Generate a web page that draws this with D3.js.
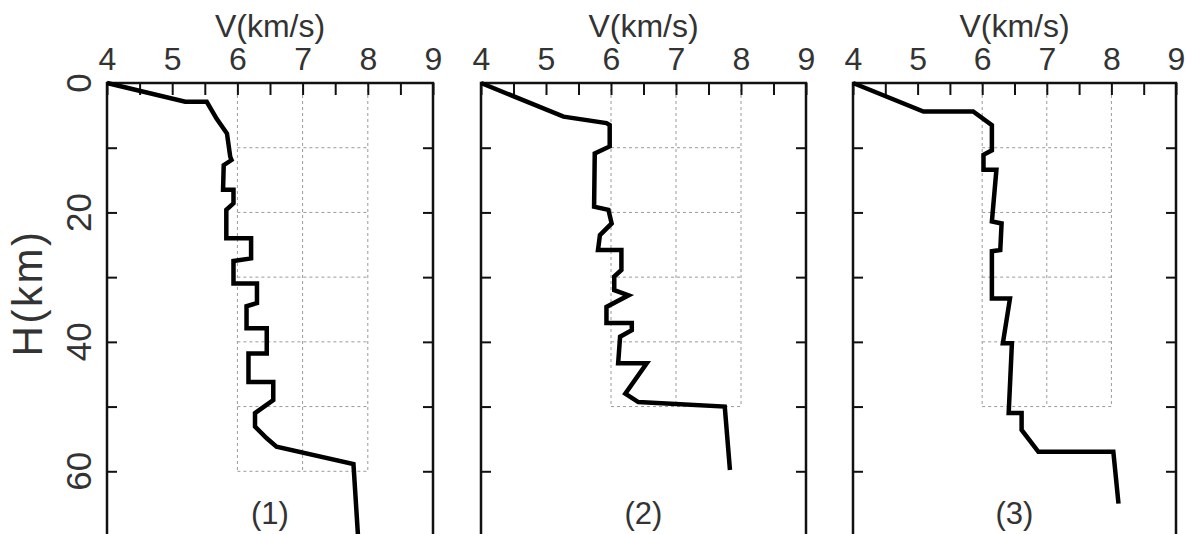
<!DOCTYPE html>
<html>
<head>
<meta charset="utf-8">
<script src="https://cdn.jsdelivr.net/npm/d3@7"></script>
<style>
  body { margin: 0; background: #fff; }
  svg { display: block; }
  text { font-family: "Liberation Sans", Arial, sans-serif; fill: #333; }
</style>
</head>
<body>
<svg id="chart" width="1186" height="534"></svg>
<script>
// axis values
const velTicks = [4, 4.5, 5, 5.5, 6, 6.5, 7, 7.5, 8, 8.5, 9];
const depthTicks = [10, 20, 30, 40, 50, 60];
const depthLabels = [0, 20, 40, 60];
const panelNames = ["(1)", "(2)", "(3)"];
const gridVel = [6, 7, 8];
const gridMaxDepth = [60, 50, 50];

// velocity profiles (depth km, velocity km/s)
const depth1 = [0, 2.9, 2.9, 5.5, 7.8, 11.4, 11.9, 12.7, 16.5, 16.5, 18.6, 19.6, 24, 24, 27.1, 27.5, 31, 31, 34, 34.5, 37.9, 37.9, 41.8, 41.8, 46.2, 46.2, 49, 51, 53.1, 54.9, 56.2, 58.9, 70];
const vel1 = [4, 5.2, 5.53, 5.68, 5.84, 5.89, 5.91, 5.79, 5.78, 5.94, 5.94, 5.83, 5.83, 6.21, 6.21, 5.94, 5.94, 6.3, 6.3, 6.14, 6.14, 6.45, 6.45, 6.17, 6.17, 6.55, 6.55, 6.27, 6.27, 6.45, 6.6, 7.78, 7.85];

const depth2 = [0, 5.2, 6.2, 6.5, 9.8, 10.9, 19.1, 19.6, 21.7, 23.5, 25.8, 25.8, 28.9, 29.9, 32, 32.8, 34.6, 37.1, 37.1, 38.2, 39.2, 43.3, 43.3, 48, 49.3, 50, 59.8];
const vel2 = [4, 5.27, 5.93, 5.98, 5.98, 5.75, 5.74, 5.96, 6.01, 5.83, 5.8, 6.16, 6.16, 6.05, 6.05, 6.27, 5.93, 5.93, 6.32, 6.32, 6.14, 6.11, 6.55, 6.22, 6.42, 7.75, 7.83];

const depth3 = [0, 4.4, 4.4, 6.5, 10.4, 11.1, 13.4, 13.4, 21.4, 21.7, 25.8, 26, 33.3, 33.3, 40.2, 40.2, 51, 51, 53.6, 57, 57, 65];
const vel3 = [4, 5.09, 5.86, 6.15, 6.15, 6.02, 6.02, 6.22, 6.15, 6.3, 6.28, 6.15, 6.15, 6.43, 6.32, 6.46, 6.41, 6.61, 6.61, 6.87, 8.03, 8.11];

const profiles = [
  d3.zip(depth1, vel1),
  d3.zip(depth2, vel2),
  d3.zip(depth3, vel3)
];

const svg = d3.select("#chart");
const plotTop = 83;
const panelLeft = [107, 481, 853];
const panelRight = [433, 806, 1176];

const y = d3.scaleLinear().domain([0, 70]).range([plotTop, plotTop + 453]);

profiles.forEach(function(prof, i) {
  const x = d3.scaleLinear().domain([4, 9]).range([panelLeft[i], panelRight[i]]);
  const g = svg.append("g");

  // dashed grid box
  const grid = g.append("g").attr("stroke", "#9a9a9a").attr("stroke-width", 1)
    .attr("stroke-dasharray", "3,3").attr("fill", "none");
  grid.selectAll("line.v").data(gridVel).join("line")
    .attr("x1", d => x(d)).attr("x2", d => x(d))
    .attr("y1", y(0)).attr("y2", y(gridMaxDepth[i]));
  grid.selectAll("line.h").data(depthTicks.filter(d => d <= gridMaxDepth[i])).join("line")
    .attr("x1", x(6)).attr("x2", x(8))
    .attr("y1", d => y(d)).attr("y2", d => y(d));

  // axes, ticks pointing in
  const xAxis = g.append("g").attr("transform", `translate(0,${plotTop})`)
    .call(d3.axisTop(x).tickValues(velTicks).tickSizeInner(-12).tickSizeOuter(0).tickPadding(13)
      .tickFormat(d => Number.isInteger(d) ? d : ""));
  const yl = g.append("g").attr("transform", `translate(${x(4)},0)`)
    .call(d3.axisLeft(y).tickValues(depthTicks).tickSizeInner(-10).tickSizeOuter(0).tickFormat(""));
  const yr = g.append("g").attr("transform", `translate(${x(9)},0)`)
    .call(d3.axisRight(y).tickValues(depthTicks).tickSizeInner(-10).tickSizeOuter(0).tickFormat(""));
  [xAxis, yl, yr].forEach(a => {
    a.select(".domain").remove();
    a.selectAll(".tick line").attr("stroke", "#111").attr("stroke-width", 2);
  });
  xAxis.attr("font-family", null);
  xAxis.selectAll(".tick text").attr("font-size", 32).attr("fill", "#333");

  // frame
  g.append("path")
    .attr("d", `M${x(4)},${y(70) + 2}V${plotTop}H${x(9)}V${y(70) + 2}`)
    .attr("fill", "none").attr("stroke", "#111").attr("stroke-width", 2.5);

  // title
  g.append("text").attr("x", x(6.5)).attr("y", 37)
    .attr("text-anchor", "middle").attr("font-size", 32).text("V(km/s)");

  // profile
  g.append("path").datum(prof)
    .attr("fill", "none").attr("stroke", "#000").attr("stroke-width", 4.5)
    .attr("stroke-linejoin", "miter")
    .attr("d", d3.line().x(d => x(d[1])).y(d => y(d[0])));

  g.append("text").attr("x", x(6.5)).attr("y", 524)
    .attr("text-anchor", "middle").attr("font-size", 31).text(panelNames[i]);

  if (i === 0) {
    g.selectAll("text.dl").data(depthLabels).join("text")
      .attr("transform", d => `translate(91,${y(d)}) rotate(-90)`)
      .attr("text-anchor", "middle").attr("font-size", 35).text(d => d);
    svg.append("text").attr("transform", `translate(42,293) rotate(-90)`)
      .attr("text-anchor", "middle").attr("font-size", 42)
      .attr("letter-spacing", 2.5).text("H(km)");
  }
});
</script>
</body>
</html>
